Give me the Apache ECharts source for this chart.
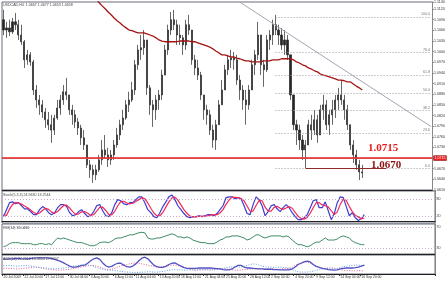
<!DOCTYPE html>
<html><head><meta charset="utf-8">
<script src="https://cdn.jsdelivr.net/npm/echarts@6/dist/echarts.min.js"></script>
<style>html,body{margin:0;padding:0;background:#fff}#c{width:448px;height:281px}</style>
</head><body><div id="c"></div>
<script>
// ---------- data ----------
const symbolTitle = 'USDCAD,H4  1.0667 1.0677 1.0653 1.0658';
const stochTitle = 'Stoch(5,3,3) 24.9630 13.2544';
const rsiTitle = 'RSI(14) 36.0466';
const adxTitle = 'ADX(14) 27.7612 10.3854 27.9407';
const dateLabels = ['20 Jul 2009','22 Jul 20:00','27 Jul 12:00','30 Jul 04:00','3 Aug 20:00','6 Aug 12:00','11 Aug 04:00','13 Aug 20:00','18 Aug 12:00','21 Aug 04:00','25 Aug 20:00','28 Aug 12:00','2 Sep 04:00','4 Sep 20:00','9 Sep 12:00','14 Sep 04:00','16 Sep 20:00'];
const labelSlots = [0,7,14,22,29,37,44,52,59,67,74,82,89,97,104,112,119];
const slotCount = 144;

const opens = [1.1090,1.1061,1.1067,1.1056,1.1084,1.1076,1.1047,1.1028,1.0977,1.0991,
1.0971,1.0892,1.0864,1.0850,1.0830,1.0808,1.0794,1.0779,1.0813,1.0841,
1.0864,1.0887,1.0878,1.0836,1.0822,1.0802,1.0785,1.0757,1.0737,1.0681,
1.0667,1.0653,1.0667,1.0695,1.0723,1.0709,1.0695,1.0709,1.0737,1.0765,
1.0794,1.0813,1.0850,1.0864,1.0892,1.0963,1.1005,1.1011,1.1033,1.0898,
1.0850,1.0836,1.0864,1.0878,1.0934,1.1005,1.1061,1.1090,1.1076,1.1047,
1.1039,1.1019,1.1076,1.1061,1.0977,1.0954,1.0934,1.0878,1.0836,1.0822,
1.0779,1.0751,1.0794,1.0850,1.0892,1.0949,1.0977,1.0982,1.0977,1.0920,
1.0892,1.0864,1.0850,1.0892,1.0963,1.0991,1.1047,1.0963,1.0949,1.1033,
1.1047,1.1076,1.1061,1.1047,1.1019,1.1033,1.0991,1.0878,1.0794,1.0779,
1.0751,1.0723,1.0737,1.0794,1.0779,1.0808,1.0765,1.0836,1.0850,1.0794,
1.0822,1.0836,1.0864,1.0878,1.0864,1.0836,1.0794,1.0737,1.0709,1.0681,
1.0661];
const closes = [1.1061,1.1067,1.1056,1.1084,1.1076,1.1047,1.1028,1.0977,1.0991,1.0971,
1.0892,1.0864,1.0850,1.0830,1.0808,1.0794,1.0779,1.0813,1.0841,1.0864,
1.0887,1.0878,1.0836,1.0822,1.0802,1.0785,1.0757,1.0737,1.0681,1.0667,
1.0653,1.0667,1.0695,1.0723,1.0709,1.0695,1.0709,1.0737,1.0765,1.0794,
1.0813,1.0850,1.0864,1.0892,1.0963,1.1005,1.1011,1.1033,1.0898,1.0850,
1.0836,1.0864,1.0878,1.0934,1.1005,1.1061,1.1090,1.1076,1.1047,1.1039,
1.1019,1.1076,1.1061,1.0977,1.0954,1.0934,1.0878,1.0836,1.0822,1.0779,
1.0751,1.0794,1.0850,1.0892,1.0949,1.0977,1.0982,1.0977,1.0920,1.0892,
1.0864,1.0850,1.0892,1.0963,1.0991,1.1047,1.0963,1.0949,1.1033,1.1047,
1.1076,1.1061,1.1047,1.1019,1.1033,1.0991,1.0878,1.0794,1.0779,1.0751,
1.0723,1.0737,1.0794,1.0779,1.0808,1.0765,1.0836,1.0850,1.0794,1.0822,
1.0836,1.0864,1.0878,1.0864,1.0836,1.0794,1.0737,1.0709,1.0681,1.0661,
1.0658];
const highs = [1.1118,1.1084,1.1090,1.1095,1.1109,1.1090,1.1076,1.1033,1.1005,1.0999,
1.0977,1.0906,1.0878,1.0864,1.0841,1.0830,1.0822,1.0822,1.0864,1.0878,
1.0906,1.0926,1.0878,1.0850,1.0836,1.0813,1.0794,1.0779,1.0737,1.0695,
1.0681,1.0681,1.0709,1.0751,1.0765,1.0729,1.0723,1.0751,1.0785,1.0808,
1.0836,1.0864,1.0887,1.0915,1.0977,1.1019,1.1047,1.1061,1.1033,1.0906,
1.0864,1.0878,1.0892,1.0949,1.1019,1.1076,1.1112,1.1118,1.1090,1.1076,
1.1047,1.1090,1.1104,1.1061,1.0991,1.0977,1.0943,1.0878,1.0850,1.0836,
1.0794,1.0808,1.0864,1.0920,1.0963,1.0991,1.1005,1.0999,1.0991,1.0934,
1.0906,1.0892,1.0906,1.0977,1.1005,1.1084,1.1047,1.0977,1.1047,1.1061,
1.1090,1.1104,1.1076,1.1067,1.1061,1.1047,1.0991,1.0878,1.0808,1.0794,
1.0765,1.0751,1.0808,1.0822,1.0836,1.0822,1.0850,1.0878,1.0864,1.0836,
1.0864,1.0878,1.0898,1.0920,1.0878,1.0850,1.0794,1.0751,1.0723,1.0695,
1.0681];
const lows = [1.1047,1.1039,1.1044,1.1050,1.1061,1.1033,1.1019,1.0954,1.0963,1.0960,
1.0878,1.0841,1.0822,1.0813,1.0785,1.0779,1.0743,1.0765,1.0808,1.0822,
1.0850,1.0864,1.0822,1.0794,1.0785,1.0765,1.0737,1.0723,1.0672,1.0644,
1.0630,1.0638,1.0661,1.0681,1.0700,1.0675,1.0681,1.0695,1.0729,1.0751,
1.0779,1.0808,1.0830,1.0858,1.0878,1.0949,1.0977,1.0991,1.0878,1.0822,
1.0788,1.0808,1.0836,1.0864,1.0934,1.0991,1.1047,1.1061,1.1019,1.1019,
1.0991,1.1005,1.1047,1.0963,1.0934,1.0920,1.0864,1.0808,1.0794,1.0765,
1.0729,1.0723,1.0794,1.0850,1.0892,1.0934,1.0954,1.0949,1.0906,1.0864,
1.0836,1.0794,1.0836,1.0892,1.0934,1.0977,1.0934,1.0901,1.0943,1.1005,
1.1019,1.1047,1.1019,1.1005,1.0991,1.0977,1.0864,1.0779,1.0737,1.0723,
1.0695,1.0672,1.0737,1.0751,1.0765,1.0743,1.0765,1.0808,1.0779,1.0765,
1.0794,1.0813,1.0836,1.0850,1.0808,1.0779,1.0723,1.0686,1.0667,1.0638,
1.0644];
const maStart = 31;
const maValues = [1.1149,1.1138,1.1129,1.1121,1.1112,1.1104,1.1095,1.1087,1.1081,1.1073,
1.1067,1.1061,1.1059,1.1056,1.1053,1.1053,1.1053,1.1050,1.1047,1.1044,
1.1039,1.1033,1.1030,1.1028,1.1028,1.1028,1.1028,1.1028,1.1030,1.1030,
1.1030,1.1030,1.1028,1.1028,1.1025,1.1022,1.1019,1.1016,1.1013,1.1008,
1.1002,1.0997,1.0991,1.0991,1.0988,1.0985,1.0985,1.0982,1.0980,1.0977,
1.0974,1.0974,1.0971,1.0971,1.0971,1.0971,1.0974,1.0974,1.0974,1.0977,
1.0977,1.0977,1.0980,1.0980,1.0980,1.0980,1.0977,1.0971,1.0968,1.0963,
1.0960,1.0954,1.0951,1.0946,1.0943,1.0937,1.0934,1.0932,1.0929,1.0926,
1.0923,1.0920,1.0920,1.0918,1.0915,1.0915,1.0909,1.0903,1.0898,1.0892];

const supportLevel = 1.0715;
const supportText = '1.0715';
const lowLevel = 1.0670;
const lowText = '1.0670';
const lowLineFrom = 101, lowLineTo = 128;
const bidPrice = 1.0658;
const trendFrom = [79, 1.1140], trendTo = [143, 1.0789];
const fibHigh = 1.1098, fibLow = 1.0670, fibFromBar = 91;
const fibRatios = [100.0, 76.4, 61.8, 50.0, 38.2, 23.6, 0.0];
const priceMin = 1.0610, priceMax = 1.1140, priceStep = 0.0030;

const stochMain = [18,43,68,71,64,68,57,46,46,36,25,25,43,54,46,32,25,32,50,61,
61,54,32,21,25,36,43,29,18,21,36,57,61,39,21,18,32,61,79,75,
64,61,68,68,79,89,89,68,43,32,18,14,32,54,71,89,96,79,57,43,
29,18,14,18,18,21,18,21,25,25,21,29,43,57,86,89,89,82,86,82,
57,29,25,61,89,79,57,21,36,57,61,46,36,50,61,50,32,18,7,7,
14,25,50,75,79,50,50,71,39,7,29,68,89,86,54,21,32,14,4,11,25];
const stochSignal = [25,22,45,62,68,67,63,56,50,42,33,28,31,41,48,44,34,30,36,48,
58,59,49,36,26,28,35,36,30,23,25,38,51,52,40,26,24,37,57,72,
73,67,64,66,72,79,86,82,67,48,31,21,21,33,52,71,85,88,77,60,
43,30,20,17,17,19,19,20,21,24,24,25,31,43,62,77,88,87,86,83,
75,56,37,38,58,76,75,52,38,38,51,55,48,44,49,54,48,33,19,11,
9,15,30,50,68,68,60,57,53,39,25,35,62,81,76,54,36,22,17,10,13];
const stochLevels = [80, 20];
const rsi = [32,34,38,40,40,40,38,38,38,38,36,36,38,38,36,38,36,43,49,47,
49,47,45,43,41,40,40,38,36,34,34,36,40,41,41,40,43,47,49,49,
51,53,55,55,57,59,60,59,49,47,47,49,49,51,53,55,57,55,51,51,
49,51,49,45,43,41,40,40,38,38,38,41,45,47,51,51,53,53,53,51,
49,45,47,51,55,55,51,49,51,53,53,53,53,51,53,51,45,40,36,36,
34,32,34,38,41,41,45,49,45,45,45,47,51,53,51,49,43,40,38,36,36];
const rsiLevels = [70, 30];
const adx = [47,47,48,48,49,49,48,48,48,49,50,51,51,51,51,50,49,46,43,40,
35,30,25,22,22,24,27,28,34,42,48,51,46,35,26,22,24,30,34,34,
28,23,22,25,32,42,50,53,48,38,28,23,21,21,24,30,34,35,30,25,
20,18,18,18,18,19,19,19,19,19,18,17,16,14,13,13,16,22,27,27,
22,19,19,18,17,16,16,15,15,15,14,14,13,13,13,13,16,22,30,34,
38,41,38,30,24,21,18,16,14,13,12,13,16,18,19,19,19,20,22,25,28];
const diPink = [18,18,17,17,16,16,17,18,19,20,21,
21,20,18,16,15,14,13,12,12,13,14,15,17,19,20,
22,24,26,27,27,25,22,18,
15,14,15,18,22,26,28,
30,32,34,35,34,32,30,28,26,24,
22,22,23,25,27,28,28,27,25,22,
18,15,13,12,12,13,14,14,15,15,
16,17,17,16,15,
13,12,12,13,14,15,15,16,
16,16,17,16,16,17,16,15,15,16,17,18,
22,27,32,36,38,37,34,
28,24,21,19,18,19,19,18,
16,14,12,11,11,10,10,11,10,10];
const diBlue = [26,27,27,26,25,25,26,27,26,25,24,
22,21,20,19,18,17,16,17,18,19,20,
22,24,26,27,28,29,28,27,24,20,
17,15,13,12,12,11,10,
8,7,6,6,5,5,5,6,6,7,7,6,6,7,8,
10,12,13,14,13,13,12,12,13,
13,13,14,14,13,13,12,13,14,15,17,
20,22,22,23,22,22,24,
27,30,32,31,28,25,
23,22,22,21,22,22,21,20,18,
14,10,7,6,6,6,7,9,
12,14,16,16,17,16,16,17,20,
23,25,26,27,28,28,27,28];

// ---------- build ----------
const cats = Array.from({length: slotCount}, (_, i) => 'b' + i);
const labelAt = {};
labelSlots.forEach((s, k) => { labelAt[s] = dateLabels[k]; });
const candles = closes.map((c, i) => [opens[i], c, lows[i], highs[i]]);
const ma = cats.map((_, i) => (i >= maStart && i - maStart < maValues.length) ? maValues[i - maStart] : null);
const lastBar = slotCount - 1;

const FONT = 'Liberation Sans';
const tiny = {fontFamily: FONT, fontSize: 3.6, color: '#333'};

const fibLines = fibRatios.map(r => {
  const v = fibLow + (fibHigh - fibLow) * r / 100;
  return [
    {coord: [fibFromBar, v], lineStyle: {color: '#9a9aa6', type: [1, 2], width: 1},
     label: {show: true, position: 'insideEndTop', formatter: r.toFixed(1), fontFamily: FONT, fontSize: 3.6, color: '#777', distance: 1}},
    {coord: [lastBar, v]}
  ];
});

const grids = [
  {left: 2, right: 13, top: 2, height: 188},
  {left: 2, right: 13, top: 191, height: 32},
  {left: 2, right: 13, top: 224, height: 30},
  {left: 2, right: 13, top: 255, height: 19}
].map(g => Object.assign(g, {show: true, borderColor: '#6a6a7a', borderWidth: 1, backgroundColor: '#fff'}));

function xAx(i, showLabels) {
  return {
    type: 'category', gridIndex: i, data: cats, boundaryGap: true,
    axisLine: {show: true, lineStyle: {color: '#222', width: 1}},
    axisTick: {show: showLabels, length: 2, interval: (idx) => labelAt[idx] !== undefined, lineStyle: {color: '#333'}},
    axisLabel: {show: showLabels, interval: 0, align: 'left', margin: 1.5,
      formatter: (v, idx) => labelAt[idx] || '', fontFamily: FONT, fontSize: 3.4, color: '#333'},
    splitLine: {show: false}
  };
}

function yAx(i, min, max, interval, fmt) {
  return {
    type: 'value', gridIndex: i, position: 'right', min, max, interval, scale: true,
    axisLine: {show: true, lineStyle: {color: '#888'}},
    axisTick: {show: i === 0, length: 1.5, inside: false, lineStyle: {color: '#888'}},
    axisLabel: Object.assign({show: true, margin: 1.5, formatter: fmt}, tiny),
    splitLine: {show: false}
  };
}

const option = {
  animation: false,
  backgroundColor: '#fff',
  grid: grids,
  title: [
    {text: symbolTitle, left: 3, top: 2.5, textStyle: {fontFamily: FONT, fontSize: 3.6, color: '#444', fontWeight: 'normal'}, padding: 0},
    {text: stochTitle, left: 3, top: 193, textStyle: {fontFamily: FONT, fontSize: 3.6, color: '#444', fontWeight: 'normal'}, padding: 0},
    {text: rsiTitle, left: 3, top: 226, textStyle: {fontFamily: FONT, fontSize: 3.6, color: '#444', fontWeight: 'normal'}, padding: 0},
    {text: adxTitle, left: 3, top: 257, textStyle: {fontFamily: FONT, fontSize: 3.6, color: '#444', fontWeight: 'normal'}, padding: 0}
  ],
  xAxis: [xAx(0, false), xAx(1, false), xAx(2, false), xAx(3, true)],
  yAxis: [
    yAx(0, priceMin, priceMax, priceStep, v => v.toFixed(4)),
    yAx(1, -5, 110, 5, v => (stochLevels.indexOf(v) >= 0 ? String(v) : '')),
    yAx(2, 18, 76, 2, v => (rsiLevels.indexOf(v) >= 0 ? String(v) : '')),
    yAx(3, 0, 60, 60, v => '')
  ],
  series: [
    {
      type: 'candlestick', xAxisIndex: 0, yAxisIndex: 0, data: candles, barWidth: 1.6,
      itemStyle: {color: '#262626', color0: '#262626', borderColor: '#262626', borderColor0: '#262626', borderWidth: 0.7},
      markLine: {
        symbol: 'none', silent: true, animation: false,
        data: [
          ...fibLines,
          {yAxis: bidPrice, lineStyle: {color: '#b4b4b4', width: 1, type: 'solid'},
           label: {show: true, position: 'end', formatter: bidPrice.toFixed(4), backgroundColor: '#111', color: '#fff', fontFamily: FONT, fontSize: 3.6, padding: [1, 1, 0, 1], distance: 1}},
          {yAxis: supportLevel, lineStyle: {color: '#e82020', width: 1.5, type: 'solid'},
           label: {show: true, position: 'end', formatter: supportText, backgroundColor: '#e82020', color: '#fff', fontFamily: FONT, fontSize: 3.6, padding: [1, 1, 0, 1], distance: 1}},
          [{coord: [lowLineFrom, lowLevel], lineStyle: {color: '#8e2a2a', width: 1, type: 'solid'}, label: {show: false}}, {coord: [lowLineTo, lowLevel]}],
          [{coord: trendFrom, lineStyle: {color: '#a4a4b4', width: 1, type: 'solid'}, label: {show: false}}, {coord: trendTo}]
        ]
      },
      markPoint: {
        silent: true, symbol: 'circle', symbolSize: 1, itemStyle: {color: 'rgba(0,0,0,0)'},
        data: [
          {coord: [127, 1.0727], label: {show: true, position: 'inside', formatter: supportText, fontFamily: 'Liberation Serif', fontWeight: 'bold', fontSize: 11, color: '#e81c1c'}},
          {coord: [128, 1.0681], label: {show: true, position: 'inside', formatter: lowText, fontFamily: 'Liberation Serif', fontWeight: 'bold', fontSize: 11, color: '#8a1010'}}
        ]
      }
    },
    {type: 'line', xAxisIndex: 0, yAxisIndex: 0, data: ma, showSymbol: false, connectNulls: false, lineStyle: {color: '#a31515', width: 1.3}},
    {type: 'line', xAxisIndex: 1, yAxisIndex: 1, data: stochMain, showSymbol: false, lineStyle: {color: '#3c3cd0', width: 1.2},
      markLine: {symbol: 'none', silent: true, label: {show: false}, lineStyle: {color: '#c8a8c8', type: [1, 2], width: 1}, data: stochLevels.map(v => ({yAxis: v}))}},
    {type: 'line', xAxisIndex: 1, yAxisIndex: 1, data: stochSignal, showSymbol: false, lineStyle: {color: '#ee2a5a', width: 1.2}},
    {type: 'line', xAxisIndex: 2, yAxisIndex: 2, data: rsi, showSymbol: false, lineStyle: {color: '#3f8a66', width: 1},
      markLine: {symbol: 'none', silent: true, label: {show: false}, lineStyle: {color: '#c8a8c8', type: [1, 2], width: 1}, data: rsiLevels.map(v => ({yAxis: v}))}},
    {type: 'line', xAxisIndex: 3, yAxisIndex: 3, data: diPink, showSymbol: false, lineStyle: {color: '#e0609a', width: 1, type: [1, 1.5]}},
    {type: 'line', xAxisIndex: 3, yAxisIndex: 3, data: diBlue, showSymbol: false, lineStyle: {color: '#5aa0e6', width: 1, type: [1, 1.5]}},
    {type: 'line', xAxisIndex: 3, yAxisIndex: 3, data: adx, showSymbol: false, lineStyle: {color: '#5252c4', width: 1.3}}
  ]
};
const chart = echarts.init(document.getElementById('c'), null, {renderer: 'canvas'});
chart.setOption(option);
</script>
</body></html>
